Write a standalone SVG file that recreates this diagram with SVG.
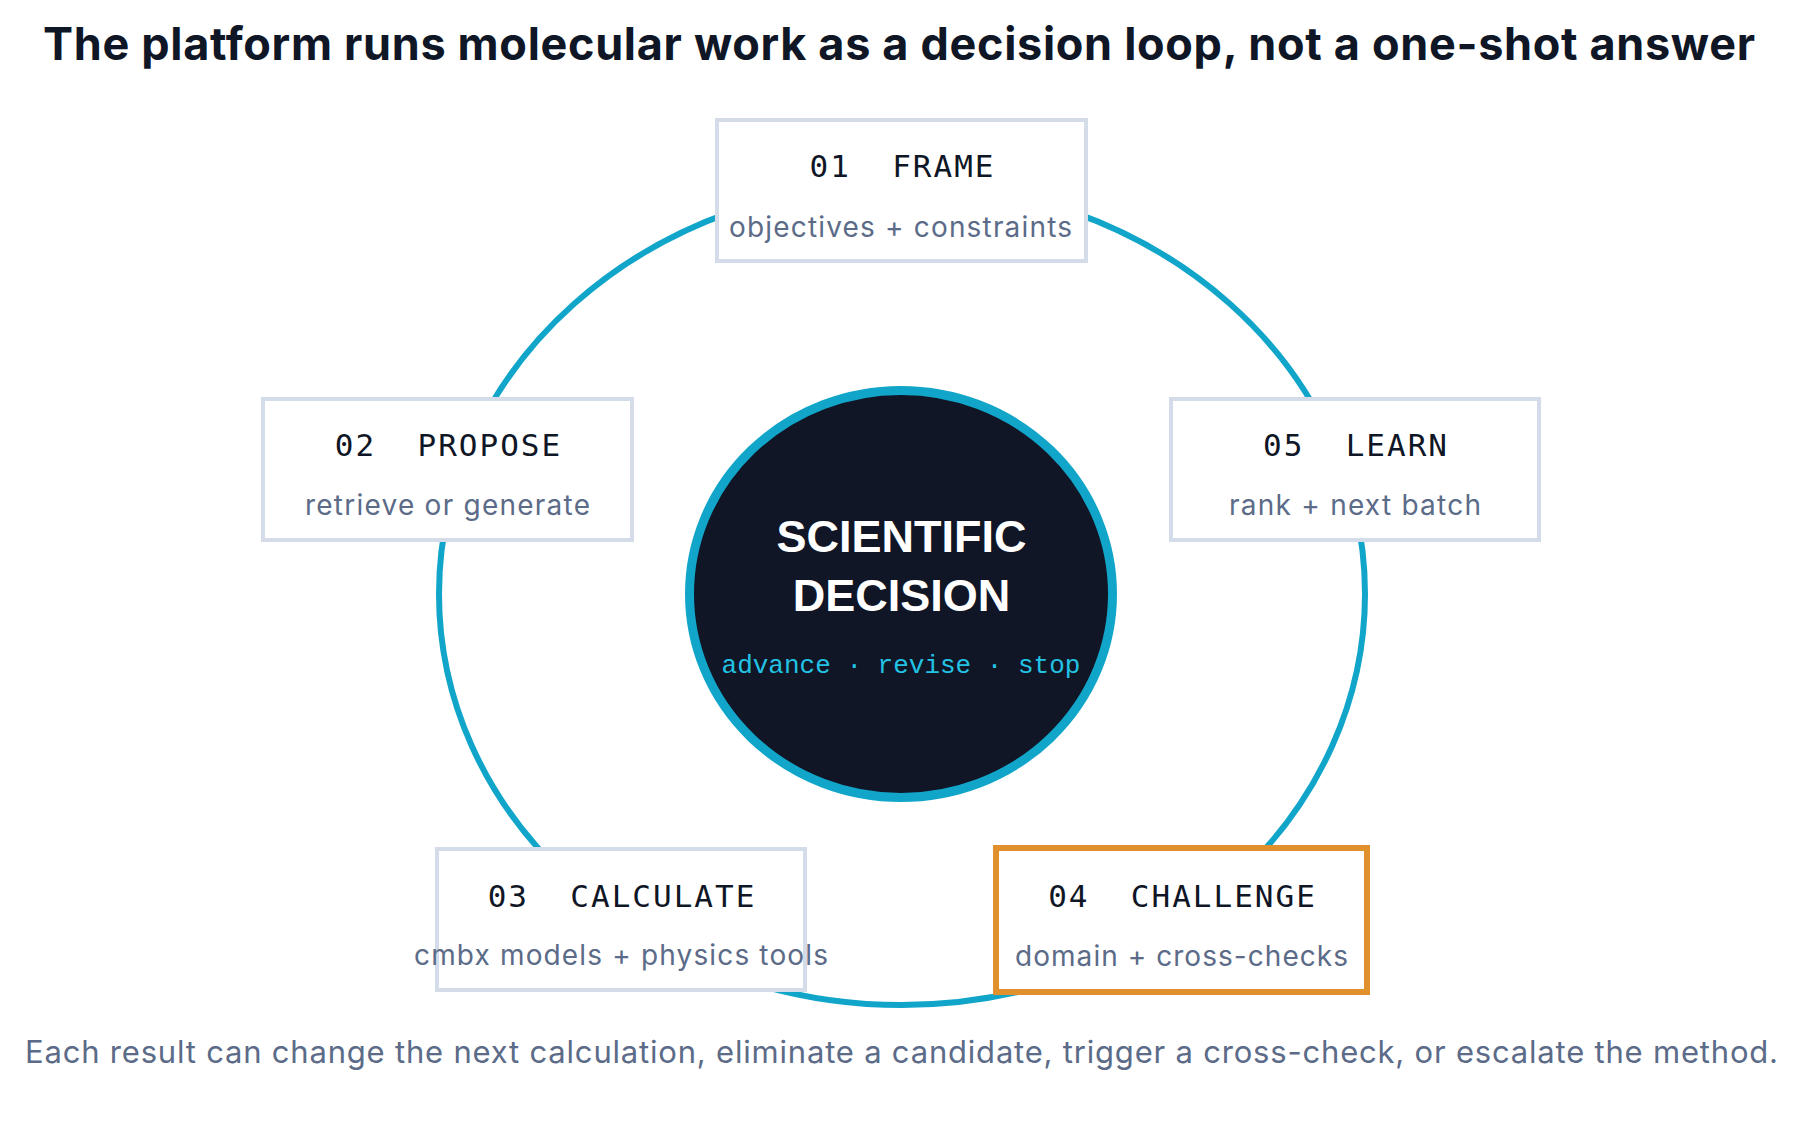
<svg xmlns="http://www.w3.org/2000/svg" width="1803" height="1121" viewBox="0 0 1803 1121">
  <style>
    .title { font-family: Inter, "Liberation Sans", sans-serif; font-weight: 700; font-size: 45px; fill: #0f1626; }
    .foot { font-family: Inter, "Liberation Sans", sans-serif; font-size: 31px; fill: #5b6b88; }
    .box { fill: #ffffff; stroke: #d3dce8; stroke-width: 4; }
    .box-hot { fill: #ffffff; stroke: #e0912e; stroke-width: 6; }
    .label { font-family: "DejaVu Sans Mono", "Liberation Mono", monospace; font-size: 31px; letter-spacing: 2px; fill: #0f1626; }
    .sub { font-family: Inter, "Liberation Sans", sans-serif; font-size: 28px; fill: #5b6b88; }
    .loop { fill: none; stroke: #11a6c9; stroke-width: 6; }
    .hub { fill: #101626; stroke: #11a6c9; stroke-width: 9; }
    .hub-title { font-family: "Liberation Sans", Arial, sans-serif; font-weight: 700; font-size: 45px; fill: #ffffff; }
    .hub-sub { font-family: "Liberation Mono", "Courier New", monospace; font-size: 26px; fill: #22c3e4; }
  </style>
  <rect width="1803" height="1121" fill="#ffffff"/>
  <text class="title" x="43" y="60" textLength="1712" lengthAdjust="spacing">The platform runs molecular work as a decision loop, not a one-shot answer</text>

  <g id="connectors">
    <ellipse class="loop" cx="902" cy="594" rx="463" ry="411"/>
  </g>

  <g id="node-decision">
    <ellipse class="hub" cx="901" cy="594" rx="211.5" ry="203.5"/>
    <text class="hub-title" x="901.5" y="552" text-anchor="middle">SCIENTIFIC</text>
    <text class="hub-title" x="901.5" y="611" text-anchor="middle">DECISION</text>
    <text class="hub-sub" x="901" y="673" text-anchor="middle">advance · revise · stop</text>
  </g>

  <g id="node-frame">
    <rect class="box" x="717" y="120" width="369" height="141"/>
    <text class="label" x="902.5" y="177" text-anchor="middle" xml:space="preserve">01  FRAME</text>
    <text class="sub" x="729" y="237" textLength="343" lengthAdjust="spacing">objectives + constraints</text>
  </g>

  <g id="node-propose">
    <rect class="box" x="263" y="399" width="369" height="141"/>
    <text class="label" x="448.5" y="456" text-anchor="middle" xml:space="preserve">02  PROPOSE</text>
    <text class="sub" x="305" y="515" textLength="285" lengthAdjust="spacing">retrieve or generate</text>
  </g>

  <g id="node-calculate">
    <rect class="box" x="437" y="849" width="368" height="141"/>
    <text class="label" x="622" y="907" text-anchor="middle" xml:space="preserve">03  CALCULATE</text>
    <text class="sub" x="414" y="965" textLength="414" lengthAdjust="spacing">cmbx models + physics tools</text>
  </g>

  <g id="node-challenge">
    <rect class="box-hot" x="996" y="848" width="371" height="144"/>
    <text class="label" x="1182.5" y="907" text-anchor="middle" xml:space="preserve">04  CHALLENGE</text>
    <text class="sub" x="1015" y="966" textLength="333" lengthAdjust="spacing">domain + cross-checks</text>
  </g>

  <g id="node-learn">
    <rect class="box" x="1171" y="399" width="368" height="141"/>
    <text class="label" x="1356" y="456" text-anchor="middle" xml:space="preserve">05  LEARN</text>
    <text class="sub" x="1229" y="515" textLength="252" lengthAdjust="spacing">rank + next batch</text>
  </g>

  <text class="foot" x="25" y="1063" textLength="1753" lengthAdjust="spacing">Each result can change the next calculation, eliminate a candidate, trigger a cross-check, or escalate the method.</text>
</svg>
